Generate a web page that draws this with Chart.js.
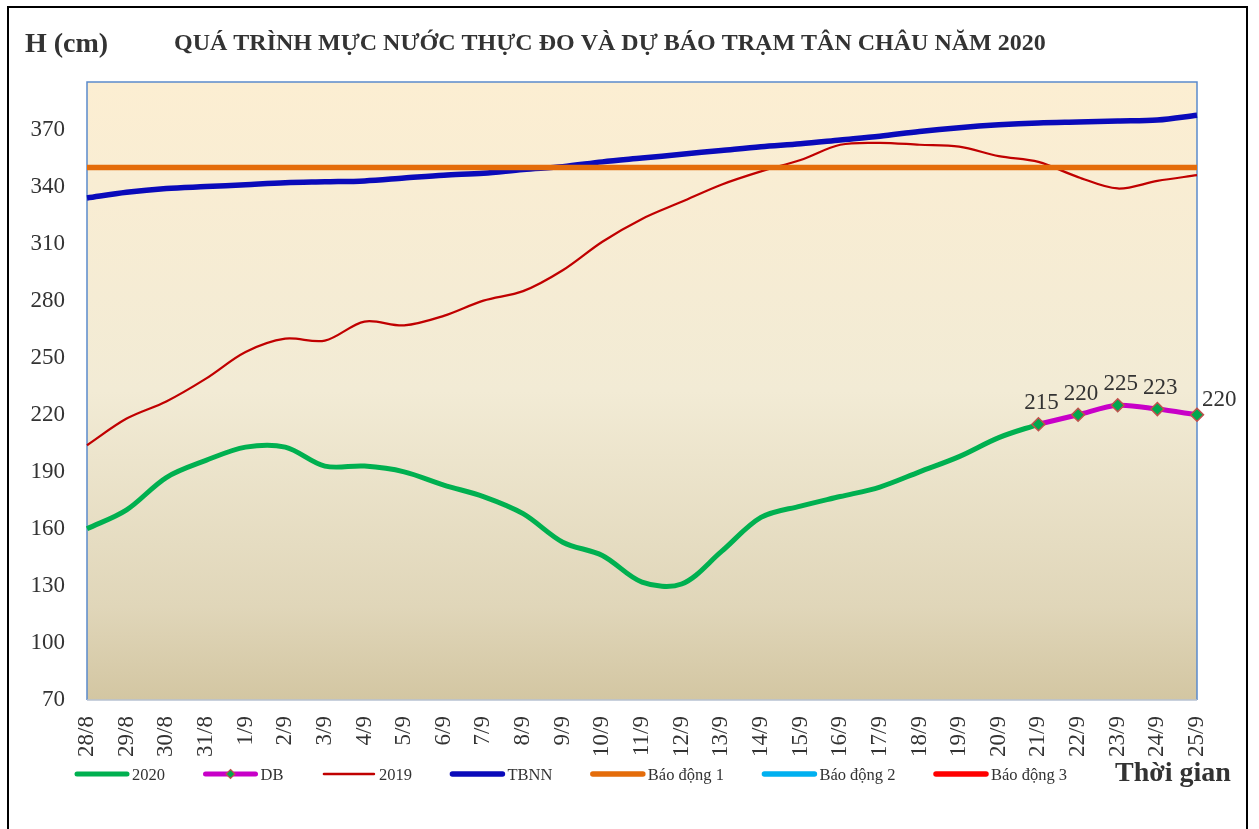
<!DOCTYPE html>
<html>
<head>
<meta charset="utf-8">
<script src="https://cdn.jsdelivr.net/npm/chart.js@4.4.1/dist/chart.umd.min.js"></script>
<style>
  html, body { margin: 0; padding: 0; background: #fff; }
  canvas { display: block; }
</style>
</head>
<body>
<canvas id="levelChart" width="1259" height="829"></canvas>
<script>
// Ngày (trục hoành)
const days = ["28/8", "29/8", "30/8", "31/8", "1/9", "2/9", "3/9", "4/9", "5/9", "6/9",
  "7/9", "8/9", "9/9", "10/9", "11/9", "12/9", "13/9", "14/9", "15/9", "16/9",
  "17/9", "18/9", "19/9", "20/9", "21/9", "22/9", "23/9", "24/9", "25/9"];

// Vạch chia trục tung (cm)
const yTicks = [70, 100, 130, 160, 190, 220, 250, 280, 310, 340, 370];

// Mực nước (cm)
const h2020 = [160, 170, 187, 196, 203, 203, 193, 193, 190, 183, 177, 168, 153, 146, 132,
  131, 148, 166, 172, 177, 182, 190, 198, 208, 215, null, null, null, null];
const hDB = [null, null, null, null, null, null, null, null, null, null, null, null,
  null, null, null, null, null, null, null, null, null, null, null, null, 215, 220, 225, 223, 220];
const h2019 = [204, 218, 227, 239, 253, 260, 259, 269, 267, 272, 280, 285, 296, 311, 323,
  332, 341, 348, 354, 362, 363, 362, 361, 356, 353, 345, 339, 343, 346];
const hTBNN = [334, 337, 339, 340, 341, 342, 342.5, 343, 344.5, 346, 347, 349, 350.5, 353, 355,
  357, 359, 361, 362.5, 364.5, 366.5, 369, 371, 372.5, 373.5, 374, 374.5, 375, 377.5];
const bd1 = [350, 350, 350, 350, 350, 350, 350, 350, 350, 350, 350, 350, 350, 350, 350,
  350, 350, 350, 350, 350, 350, 350, 350, 350, 350, 350, 350, 350, 350];
const bd2 = [400, 400, 400, 400, 400, 400, 400, 400, 400, 400, 400, 400, 400, 400, 400,
  400, 400, 400, 400, 400, 400, 400, 400, 400, 400, 400, 400, 400, 400];
const bd3 = [450, 450, 450, 450, 450, 450, 450, 450, 450, 450, 450, 450, 450, 450, 450,
  450, 450, 450, 450, 450, 450, 450, 450, 450, 450, 450, 450, 450, 450];

const yMin = 70, yMax = 395;

const SERIF = "'Liberation Serif', 'Times New Roman', serif";
const TEXT = "#333333";

Chart.defaults.font.family = SERIF;
Chart.defaults.color = TEXT;

// nền trắng, vùng vẽ tô gradient, khung viền
const framePlugin = {
  id: "frame",
  beforeDraw(chart) {
    const { ctx, chartArea: a, width, height } = chart;
    ctx.save();
    ctx.fillStyle = "#ffffff";
    ctx.fillRect(0, 0, width, height);
    const g = ctx.createLinearGradient(0, a.top, 0, a.bottom);
    g.addColorStop(0, "#FCEED2");
    g.addColorStop(0.5, "#F2EBD5");
    g.addColorStop(0.85, "#E0D6B9");
    g.addColorStop(1, "#D3C6A2");
    ctx.fillStyle = g;
    ctx.fillRect(a.left, a.top, a.right - a.left, a.bottom - a.top);
    ctx.restore();
  },
  beforeDatasetsDraw(chart) {
    const { ctx, chartArea: a } = chart;
    ctx.save();
    ctx.lineWidth = 1.5;
    ctx.strokeStyle = "#5B8ACB";
    ctx.beginPath();
    ctx.moveTo(a.left, a.bottom);
    ctx.lineTo(a.left, a.top);
    ctx.lineTo(a.right, a.top);
    ctx.lineTo(a.right, a.bottom);
    ctx.stroke();
    ctx.strokeStyle = "#B7C2D2";
    ctx.beginPath();
    ctx.moveTo(a.left, a.bottom);
    ctx.lineTo(a.right, a.bottom);
    ctx.stroke();
    ctx.restore();
  },
  afterDraw(chart) {
    const { ctx } = chart;
    ctx.save();
    ctx.strokeStyle = "#000";
    ctx.lineWidth = 2;
    ctx.strokeRect(8, 7, 1239, 900);
    ctx.restore();
  },
};

// nhãn số liệu cho chuỗi dự báo
const dbLabelPlugin = {
  id: "dbLabels",
  afterDatasetsDraw(chart) {
    const { ctx } = chart;
    const idx = chart.data.datasets.findIndex(d => d.label === "DB");
    const meta = chart.getDatasetMeta(idx);
    const data = chart.data.datasets[idx].data;
    ctx.save();
    ctx.font = "23px " + SERIF;
    ctx.fillStyle = TEXT;
    ctx.textBaseline = "alphabetic";
    let last = -1;
    data.forEach((v, i) => { if (v !== null) last = i; });
    data.forEach((v, i) => {
      if (v === null) return;
      const p = meta.data[i];
      if (i === last) {
        ctx.textAlign = "left";
        ctx.fillText(String(v), p.x + 5, p.y - 9);
      } else {
        ctx.textAlign = "center";
        ctx.fillText(String(v), p.x + 3, p.y - 15);
      }
    });
    ctx.restore();
  },
};

// tiêu đề, chú thích, nhãn trục
const textPlugin = {
  id: "texts",
  afterDraw(chart) {
    const { ctx } = chart;
    ctx.save();
    ctx.fillStyle = TEXT;
    ctx.textBaseline = "alphabetic";
    ctx.textAlign = "left";
    ctx.font = "bold 28px " + SERIF;
    ctx.fillText("H (cm)", 25, 52);
    ctx.font = "bold 24px " + SERIF;
    ctx.fillText("QUÁ TRÌNH MỰC NƯỚC THỰC ĐO VÀ DỰ BÁO TRẠM TÂN CHÂU NĂM 2020", 174, 50);
    ctx.font = "bold 28px " + SERIF;
    ctx.fillText("Thời gian", 1115, 781);

    // chú thích
    const ly = 774;
    const sample = 54;
    let x = 75;
    ctx.font = "16.5px " + SERIF;
    chart.data.datasets.forEach(ds => {
      ctx.strokeStyle = ds.borderColor;
      ctx.lineWidth = Math.max(ds.borderWidth, 2.5);
      ctx.lineCap = "round";
      ctx.beginPath();
      ctx.moveTo(x + 2, ly);
      ctx.lineTo(x + sample - 2, ly);
      ctx.stroke();
      if (ds.pointRadius > 0) {
        const cx = x + sample / 2, r = 4.5;
        ctx.beginPath();
        ctx.moveTo(cx, ly - r);
        ctx.lineTo(cx + r, ly);
        ctx.lineTo(cx, ly + r);
        ctx.lineTo(cx - r, ly);
        ctx.closePath();
        ctx.fillStyle = ds.pointBackgroundColor;
        ctx.fill();
        ctx.lineWidth = 1.2;
        ctx.strokeStyle = ds.pointBorderColor;
        ctx.stroke();
      }
      ctx.fillStyle = TEXT;
      ctx.fillText(ds.label, x + sample + 3, 780);
      x += sample + 3 + ctx.measureText(ds.label).width + 38.5;
    });
    ctx.restore();
  },
};

new Chart(document.getElementById("levelChart"), {
  type: "line",
  data: {
    labels: days,
    datasets: [
      { label: "2020", data: h2020, borderColor: "#00B050", borderWidth: 5, pointRadius: 0, tension: 0.33, order: 7 },
      { label: "DB", data: hDB, borderColor: "#C800C8", borderWidth: 5, tension: 0.3, order: 6,
        pointStyle: "rectRot", pointRadius: 6.5, pointBackgroundColor: "#00A84E",
        pointBorderColor: "#C0504D", pointBorderWidth: 1.5 },
      { label: "2019", data: h2019, borderColor: "#C00000", borderWidth: 2.25, pointRadius: 0, tension: 0.33, order: 5 },
      { label: "TBNN", data: hTBNN, borderColor: "#0A0ABA", borderWidth: 5.5, pointRadius: 0, tension: 0.33, order: 4 },
      { label: "Báo động 1", data: bd1, borderColor: "#E46C0A", borderWidth: 5.5, pointRadius: 0, order: 3 },
      { label: "Báo động 2", data: bd2, borderColor: "#00B0F0", borderWidth: 5.5, pointRadius: 0, order: 2 },
      { label: "Báo động 3", data: bd3, borderColor: "#FF0000", borderWidth: 5.5, pointRadius: 0, order: 1 },
    ],
  },
  options: {
    responsive: false,
    animation: false,
    layout: { padding: { top: 82, right: 62, left: 0, bottom: 0 } },
    plugins: { legend: { display: false }, tooltip: { enabled: false }, title: { display: false } },
    scales: {
      x: {
        offset: false,
        grid: { display: false, drawTicks: false },
        border: { display: false },
        ticks: { autoSkip: false, maxRotation: 90, minRotation: 90, padding: 16, color: TEXT, font: { size: 23 } },
        afterFit(s) { s.height = 129; },
      },
      y: {
        min: yMin,
        max: yMax,
        grid: { display: false, drawTicks: false },
        border: { display: false },
        ticks: { padding: 22, color: TEXT, font: { size: 23 } },
        afterBuildTicks(s) { s.ticks = yTicks.map(v => ({ value: v })); },
        afterFit(s) { s.width = 87; },
      },
    },
  },
  plugins: [framePlugin, dbLabelPlugin, textPlugin],
});
</script>
</body>
</html>
